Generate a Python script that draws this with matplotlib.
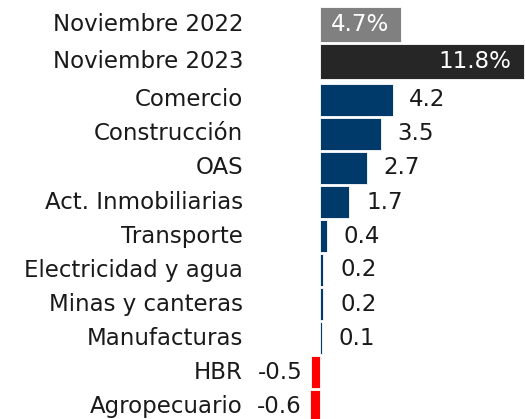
import matplotlib
matplotlib.use("Agg")
import matplotlib.pyplot as plt

total_labels = ["Noviembre 2022", "Noviembre 2023"]
total_values = [4.7, 11.8]
total_colors = ["#808080", "#262626"]

sectors = ["Comercio", "Construcción", "OAS", "Act. Inmobiliarias", "Transporte",
           "Electricidad y agua", "Minas y canteras", "Manufacturas", "HBR", "Agropecuario"]
sector_values = [4.2, 3.5, 2.7, 1.7, 0.4, 0.2, 0.2, 0.1, -0.5, -0.6]

plt.rcParams['font.family'] = ['DejaVu Sans']
FS = 16.5
TXT = "#1a1a1a"
NAVY = "#003a6b"
RED = "#ff0000"

W, H = 525, 419
fig = plt.figure(figsize=(W / 100, H / 100), dpi=100)

ax_left_px = 250
zero_px = 320
scale = 17.3  # px per unit
xmin = -(zero_px - ax_left_px) / scale
xmax = (W - zero_px) / scale

def px_axes(top, bottom):
    return [ax_left_px / W, (H - bottom) / H, (W - ax_left_px) / W, (bottom - top) / H]

# Top axes: totals
ax1 = fig.add_axes(px_axes(6, 80))
y1 = list(range(len(total_values)))
ax1.barh(y1, total_values, height=0.94, color=total_colors, edgecolor="white", linewidth=0.6)
ax1.set_ylim(len(total_values) - 0.5, -0.5)
ax1.set_xlim(xmin, xmax)
ax1.set_yticks(y1)
ax1.set_yticklabels(total_labels, fontsize=FS, color=TXT)
for yy, v in zip(y1, total_values):
    ax1.annotate(f"{v}%", (v, yy), xytext=(-9, 0), textcoords="offset points",
                 ha="right", va="center", color="white", fontsize=FS)

# Bottom axes: sectors
pitch = 34.0
top2 = 100 - pitch / 2
ax2 = fig.add_axes(px_axes(top2, top2 + pitch * len(sectors)))
y2 = list(range(len(sectors)))
cols = [NAVY if v >= 0 else RED for v in sector_values]
ax2.barh(y2, sector_values, height=0.93, color=cols, edgecolor="white", linewidth=0.6)
ax2.set_ylim(len(sectors) - 0.5, -0.5)
ax2.set_xlim(xmin, xmax)
ax2.set_yticks(y2)
ax2.set_yticklabels(sectors, fontsize=FS, color=TXT)
for yy, v in zip(y2, sector_values):
    if v >= 0:
        ax2.annotate(f"{v}", (v, yy), xytext=(12, 0), textcoords="offset points",
                     ha="left", va="center", color=TXT, fontsize=FS)
    else:
        ax2.annotate(f"{v}", (v, yy), xytext=(-6, 0), textcoords="offset points",
                     ha="right", va="center", color=TXT, fontsize=FS)

for ax in (ax1, ax2):
    for s in ax.spines.values():
        s.set_visible(False)
    ax.tick_params(axis="y", length=0, pad=5)
    ax.set_xticks([])
    ax.patch.set_alpha(0)
    for lab in ax.get_yticklabels():
        lab.set_verticalalignment("center")

fig.savefig("out.png", dpi=100)
